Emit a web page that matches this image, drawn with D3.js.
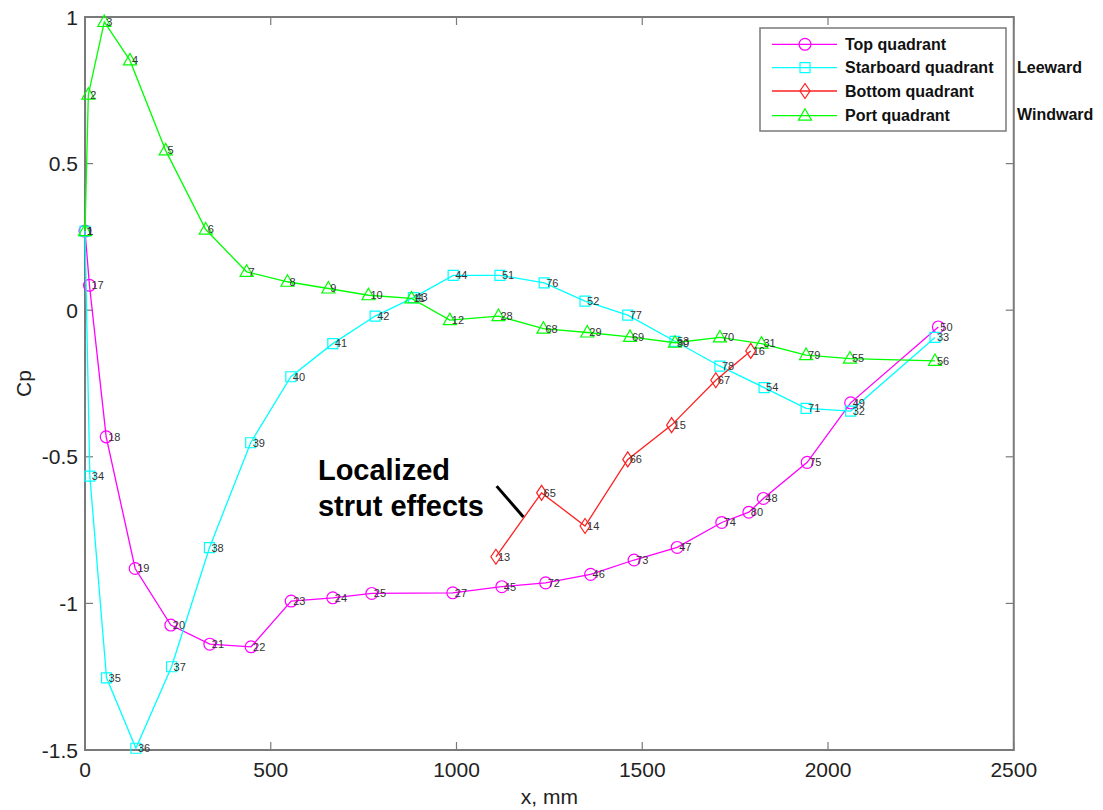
<!DOCTYPE html>
<html>
<head>
<meta charset="utf-8">
<script src="https://cdn.jsdelivr.net/npm/d3@7"></script>
<style>
  html, body { margin: 0; padding: 0; background: #fff; }
  svg { display: block; font-family: "Liberation Sans", Arial, sans-serif; }
</style>
</head>
<body>
<svg id="chart" width="1103" height="810"></svg>
<script>
// Pressure coefficient along the body, one series per quadrant
const topX   = [0, 12, 57, 135, 231, 336, 447, 555, 667, 772, 990, 1122, 1240, 1361, 1478, 1594, 1714, 1787, 1826, 1944, 2061, 2297];
const topCp  = [0.27, 0.085, -0.432, -0.881, -1.074, -1.139, -1.148, -0.992, -0.981, -0.966, -0.964, -0.943, -0.930, -0.901, -0.852, -0.809, -0.724, -0.689, -0.642, -0.519, -0.316, -0.057];
const topTap = [1, 17, 18, 19, 20, 21, 22, 23, 24, 25, 27, 45, 72, 46, 73, 47, 74, 80, 48, 75, 49, 50];

const stbdX   = [0, 13, 58, 137, 233, 335, 446, 554, 667, 781, 884, 991, 1117, 1236, 1346, 1461, 1588, 1709, 1828, 1941, 2061, 2288];
const stbdCp  = [0.27, -0.566, -1.254, -1.494, -1.216, -0.810, -0.452, -0.227, -0.114, -0.020, 0.043, 0.119, 0.119, 0.093, 0.031, -0.017, -0.106, -0.191, -0.264, -0.335, -0.344, -0.093];
const stbdTap = [1, 34, 35, 36, 37, 38, 39, 40, 41, 42, 43, 44, 51, 76, 52, 77, 53, 78, 54, 71, 32, 33];

const botX   = [1106, 1229, 1346, 1461, 1579, 1698, 1792];
const botCp  = [-0.841, -0.623, -0.736, -0.509, -0.392, -0.239, -0.139];
const botTap = [13, 65, 14, 66, 15, 67, 16];

const portX   = [0, 9, 52, 121, 217, 325, 435, 545, 655, 763, 879, 982, 1113, 1234, 1352, 1467, 1588, 1709, 1821, 1941, 2059, 2288];
const portCp  = [0.27, 0.735, 0.983, 0.852, 0.545, 0.275, 0.131, 0.097, 0.074, 0.051, 0.040, -0.034, -0.020, -0.063, -0.076, -0.091, -0.111, -0.093, -0.114, -0.153, -0.165, -0.173];
const portTap = [1, 2, 3, 4, 5, 6, 7, 8, 9, 10, 11, 12, 28, 68, 29, 69, 30, 70, 31, 79, 55, 56];

const seriesNames = ["Top quadrant", "Starboard quadrant", "Bottom quadrant", "Port quadrant"];
const xTicks = [0, 500, 1000, 1500, 2000, 2500];
const yTicks = [-1.5, -1, -0.5, 0, 0.5, 1];

const series = [
  { name: seriesNames[0], x: topX,  y: topCp,  tap: topTap,  color: "#ff00ff", marker: "circle" },
  { name: seriesNames[1], x: stbdX, y: stbdCp, tap: stbdTap, color: "#00ffff", marker: "square" },
  { name: seriesNames[2], x: botX,  y: botCp,  tap: botTap,  color: "#ff2020", marker: "diamond" },
  { name: seriesNames[3], x: portX, y: portCp, tap: portTap, color: "#00ff00", marker: "triangle" }
];

const svg = d3.select("#chart");
const plot = { left: 85, top: 17, right: 1013.75, bottom: 750 };

const x = d3.scaleLinear().domain([0, 2500]).range([plot.left, plot.right]);
const y = d3.scaleLinear().domain([-1.5, 1]).range([plot.bottom, plot.top]);

const axisColor = "#7a7a7a";
const tickLen = 8;

// Axes box with inward ticks on all four sides
svg.append("rect")
  .attr("x", plot.left).attr("y", plot.top)
  .attr("width", plot.right - plot.left).attr("height", plot.bottom - plot.top)
  .attr("fill", "none").attr("stroke", axisColor).attr("stroke-width", 2);

const ticks = svg.append("g").attr("stroke", axisColor).attr("stroke-width", 1.2);
xTicks.forEach(t => {
  ticks.append("line").attr("x1", x(t)).attr("x2", x(t)).attr("y1", plot.bottom).attr("y2", plot.bottom - tickLen);
  ticks.append("line").attr("x1", x(t)).attr("x2", x(t)).attr("y1", plot.top).attr("y2", plot.top + tickLen);
});
yTicks.forEach(t => {
  ticks.append("line").attr("x1", plot.left).attr("x2", plot.left + tickLen).attr("y1", y(t)).attr("y2", y(t));
  ticks.append("line").attr("x1", plot.right).attr("x2", plot.right - tickLen).attr("y1", y(t)).attr("y2", y(t));
});

const fmt = d => String(d);
svg.append("g").selectAll("text").data(xTicks).join("text")
  .attr("x", d => x(d)).attr("y", 777)
  .attr("text-anchor", "middle")
  .attr("font-size", 21).attr("fill", "#222")
  .text(fmt);
svg.append("g").selectAll("text").data(yTicks).join("text")
  .attr("x", 78).attr("y", d => y(d))
  .attr("dy", "0.36em")
  .attr("text-anchor", "end")
  .attr("font-size", 21).attr("fill", "#222")
  .text(fmt);

svg.append("text")
  .attr("x", (plot.left + plot.right) / 2).attr("y", 804)
  .attr("text-anchor", "middle").attr("font-size", 21).attr("fill", "#222")
  .text("x, mm");
svg.append("text")
  .attr("transform", `translate(31, ${(plot.top + plot.bottom) / 2}) rotate(-90)`)
  .attr("text-anchor", "middle").attr("font-size", 21).attr("fill", "#222")
  .text("Cp");

// Marker shapes
function markerPath(kind) {
  switch (kind) {
    case "circle":   return d3.symbol(d3.symbolCircle, 110)();
    case "square":   return "M-5,-5H5V5H-5Z";
    case "diamond":  return "M0,-7.5L5,0L0,7.5L-5,0Z";
    case "triangle": return "M0,-7L6.5,4.5H-6.5Z";
  }
}

const line = d3.line();
const layer = svg.append("g");

series.forEach(s => {
  const pts = s.x.map((v, i) => [x(v), y(s.y[i])]);
  layer.append("path")
    .attr("d", line(pts))
    .attr("fill", "none").attr("stroke", s.color).attr("stroke-width", 1.3);
  layer.append("g").selectAll("path").data(pts).join("path")
    .attr("transform", d => `translate(${d[0]},${d[1]})`)
    .attr("d", markerPath(s.marker))
    .attr("fill", "none").attr("stroke", s.color).attr("stroke-width", 1.2);
});

// Tap numbers next to each point
series.forEach(s => {
  layer.append("g").selectAll("text").data(s.tap).join("text")
    .attr("x", (d, i) => x(s.x[i]) + 2)
    .attr("y", (d, i) => y(s.y[i]))
    .attr("dy", "0.35em")
    .attr("font-size", 11).attr("fill", "#333")
    .text(d => d);
});

// Annotation for the bottom-quadrant strut disturbance
const note = svg.append("g").attr("font-size", 29).attr("font-weight", "bold").attr("fill", "#000");
note.append("text").attr("x", x(627)).attr("y", y(-0.58)).text("Localized");
note.append("text").attr("x", x(627)).attr("y", y(-0.701)).text("strut effects");
svg.append("line")
  .attr("x1", x(1108)).attr("y1", y(-0.60))
  .attr("x2", x(1180)).attr("y2", y(-0.705))
  .attr("stroke", "#000").attr("stroke-width", 3);

// Legend
const leg = svg.append("g");
leg.append("rect")
  .attr("x", 760).attr("y", 28).attr("width", 246).attr("height", 103)
  .attr("fill", "#fff").attr("stroke", axisColor).attr("stroke-width", 1.5);
const rowY = [44.3, 67.7, 91, 115.7];
series.forEach((s, i) => {
  const g = leg.append("g").attr("transform", `translate(0,${rowY[i]})`);
  g.append("line").attr("x1", 772).attr("x2", 837).attr("y1", 0).attr("y2", 0)
    .attr("stroke", s.color).attr("stroke-width", 1.3);
  g.append("path").attr("transform", "translate(805,0)").attr("d", markerPath(s.marker))
    .attr("fill", "none").attr("stroke", s.color).attr("stroke-width", 1.2);
  g.append("text").attr("x", 845).attr("y", 0).attr("dy", "0.36em")
    .attr("font-size", 16).attr("font-weight", "bold").attr("fill", "#111")
    .text(s.name);
});

// Side notes beside the legend
const side = svg.append("g").attr("font-size", 16).attr("font-weight", "bold").attr("fill", "#111");
side.append("text").attr("x", 1017).attr("y", rowY[1]).attr("dy", "0.36em").text("Leeward");
side.append("text").attr("x", 1017).attr("y", rowY[3] - 1.5).attr("dy", "0.36em").text("Windward");
</script>
</body>
</html>
